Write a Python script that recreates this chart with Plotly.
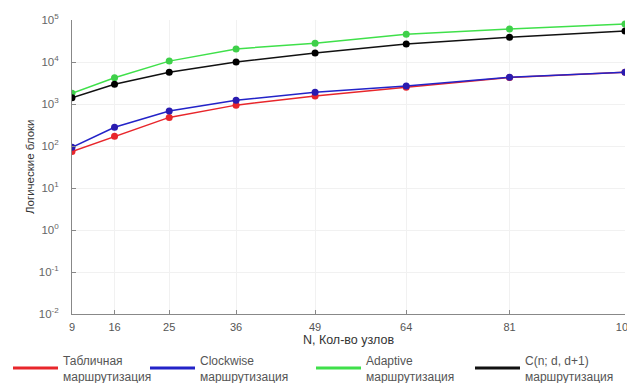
import plotly.graph_objects as go

nodes = [9, 16, 25, 36, 49, 64, 81, 100]
table_routing = [74, 170, 480, 940, 1550, 2500, 4300, 5700]
clockwise_routing = [93, 280, 680, 1230, 1900, 2700, 4350, 5700]
adaptive_routing = [1800, 4200, 10500, 20500, 28000, 46000, 61000, 80000]
circulant_routing = [1400, 2950, 5700, 10000, 16300, 26700, 39000, 55000]

y_tick_exponents = [-2, -1, 0, 1, 2, 3, 4, 5]

series_names = ["Табличная<br>маршрутизация", "Clockwise<br>маршрутизация",
                "Adaptive<br>маршрутизация", "C(n; d, d+1)<br>маршрутизация"]
series_values = [table_routing, clockwise_routing, adaptive_routing, circulant_routing]
colors = ["#e8262b", "#2323c8", "#3fe04a", "#111111"]
marker_colors = ["#e8262b", "#2a1cb0", "#3fd04a", "#000000"]
legend_ids = ["legend", "legend2", "legend3", "legend4"]
legend_x_px = [0, 137, 303, 462]

W, H = 627, 375  # page body adds an 8px offset

fig = go.Figure()
for name, vals, c, mc, lid in zip(series_names, series_values, colors, marker_colors, legend_ids):
    fig.add_trace(go.Scatter(
        x=nodes, y=vals, name=name, mode="lines+markers",
        line=dict(color=c, width=1.5),
        marker=dict(color=mc, size=7),
        showlegend=False,
    ))
    # legend-only entry (line sample without marker)
    fig.add_trace(go.Scatter(
        x=[None], y=[None], name=name, mode="lines",
        line=dict(color=c, width=3), legend=lid, showlegend=True,
    ))

legend_common = dict(xref="container", yref="container", yanchor="middle",
                     xanchor="left", y=14.5 / H, bgcolor="rgba(0,0,0,0)",
                     font=dict(size=12, color="#555"), borderwidth=0,
                     itemwidth=45)
layout_legends = {}
for lid, xp in zip(legend_ids, legend_x_px):
    layout_legends[lid] = dict(legend_common, x=xp / W)

fig.update_layout(
    width=W, height=H,
    margin=dict(l=64, r=10, t=12, b=69, autoexpand=False),
    plot_bgcolor="white", paper_bgcolor="white",
    font=dict(family="Liberation Sans, Arial, sans-serif", size=10, color="#444"),
    showlegend=True,
    **layout_legends,
    xaxis=dict(
        range=[9, 100], tickvals=nodes, ticktext=[str(n) for n in nodes],
        showline=True, linecolor="#888", linewidth=1,
        ticks="inside", ticklen=4, tickcolor="#888",
        showgrid=True, gridcolor="#f1f1f1", zeroline=False,
        ticklabelstandoff=3,
        title=dict(text="N, Кол-во узлов", font=dict(size=12.5, color="#333"), standoff=1),
        tickfont=dict(size=11, color="#555"),
    ),
    yaxis=dict(
        type="log", range=[-2, 5],
        tickvals=[10.0 ** e for e in y_tick_exponents],
        ticktext=["10<sup>%d</sup>" % e for e in y_tick_exponents],
        showline=True, linecolor="#888", linewidth=1,
        ticks="inside", ticklen=4, tickcolor="#888",
        showgrid=True, gridcolor="#f1f1f1", zeroline=False,
        ticklabelstandoff=10,
        tickfont=dict(size=11.5, color="#666"),
    ),
    annotations=[dict(
        text="Логические блоки", textangle=-90, showarrow=False,
        xref="paper", yref="paper", x=(22 - 64) / (W - 74), y=0.5,
        xanchor="center", yanchor="middle",
        font=dict(size=11.5, color="#333"),
    )],
)

fig.write_html("out.html")
